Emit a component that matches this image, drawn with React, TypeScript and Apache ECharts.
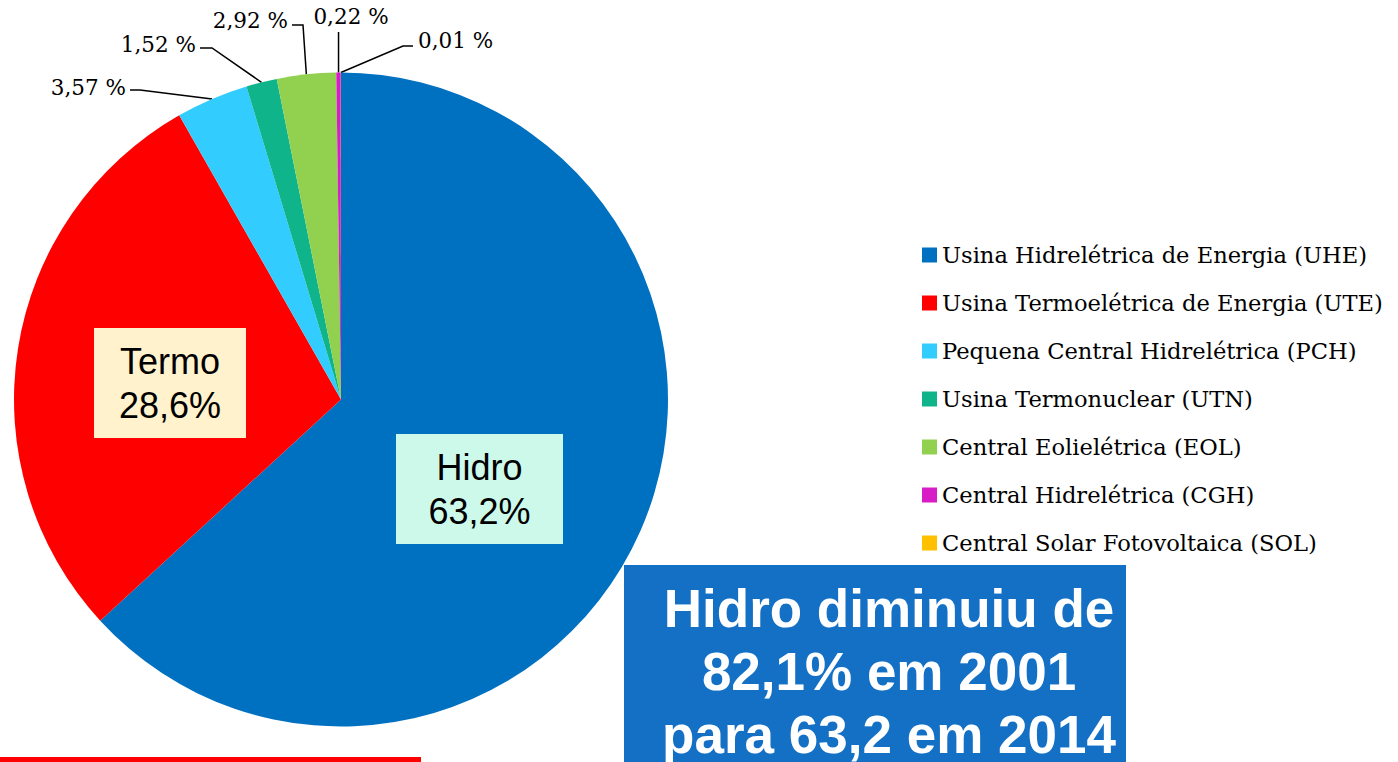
import React, { useEffect, useRef } from "react";
import * as echarts from "echarts";

// ---- data ----
const categories = [
  "Usina Hidrelétrica de Energia (UHE)",
  "Usina Termoelétrica de Energia (UTE)",
  "Pequena Central Hidrelétrica (PCH)",
  "Usina Termonuclear (UTN)",
  "Central Eolielétrica (EOL)",
  "Central Hidrelétrica (CGH)",
  "Central Solar Fotovoltaica (SOL)",
];
const shares = [63.2, 28.6, 3.57, 1.52, 2.92, 0.22, 0.01];
const shortNames = ["Hidro", "Termo", "", "", "", "", ""];
const annotationLines = ["Hidro diminuiu de", "82,1% em 2001", "para 63,2 em 2014"];

// ---- styles ----
const colors = ["#0070C0", "#FF0000", "#33CCFF", "#10B48A", "#92D050", "#D81CC6", "#FFC000"];
const bigBoxBg = ["#CCF9EA", "#FFF2CC"];
const SERIF = '"DejaVu Serif", serif';
const SANS = '"Liberation Sans", Arial, sans-serif';

// label anchor layout per slice index
const layouts: Record<number, any> = {
  0: { x: 479.5, y: 489, align: "center", verticalAlign: "middle" },
  1: { x: 170, y: 383, align: "center", verticalAlign: "middle" },
  2: { x: 126, y: 87, align: "right", elbow: [140, 90], end: [130, 90] },
  3: { x: 196, y: 44, align: "right", elbow: [212, 48], end: [200, 48] },
  4: { x: 288, y: 20, align: "right", elbow: [303, 25], end: [292, 25] },
  5: { x: 351, y: 16, align: "center", vertical: 32 },
  6: { x: 418, y: 40, align: "left", elbow: [403, 46], end: [413, 46] },
};

const fmtPct = (v: number, big: boolean) =>
  big ? v.toFixed(1).replace(".", ",") + "%" : v.toFixed(2).replace(".", ",") + " %";

export default function App() {
  const ref = useRef<HTMLDivElement>(null);
  useEffect(() => {
    if (!ref.current) return;
    const chart = echarts.init(ref.current, undefined, { renderer: "svg" });
    const data = categories.map((name, i) => {
      const big = i < 2;
      return {
        name,
        value: shares[i],
        itemStyle: { color: colors[i] },
        label: big
          ? {
              show: true,
              position: "inside",
              formatter: () => `${shortNames[i]}\n${fmtPct(shares[i], true)}`,
              fontFamily: SANS,
              fontSize: 36,
              lineHeight: 44,
              color: "#000",
              backgroundColor: bigBoxBg[i],
              width: i === 0 ? 167 : 152,
              align: "center",
              padding: [11, 0, 11, 0],
            }
          : {
              show: true,
              position: "outside",
              formatter: () => fmtPct(shares[i], false),
              fontFamily: SERIF,
              fontSize: 21.5,
              color: "#000",
            },
        labelLine: { show: !big },
      };
    });

    chart.setOption({
      animation: false,
      backgroundColor: "#fff",
      legend: {
        orient: "vertical",
        left: 922,
        top: 243,
        padding: 0,
        itemWidth: 15,
        itemHeight: 15,
        itemGap: 24,
        icon: "rect",
        textStyle: { fontFamily: SERIF, fontSize: 22.6, lineHeight: 24, color: "#000" },
        data: categories,
      },
      series: [
        {
          type: "pie",
          center: [341, 399.5],
          radius: 327,
          startAngle: 90,
          clockwise: true,
          avoidLabelOverlap: false,
          itemStyle: { borderWidth: 0 },
          labelLine: { lineStyle: { color: "#000", width: 1.5 }, length: 10, length2: 10 },
          labelLayout: (params: any) => {
            const L = layouts[params.dataIndex];
            if (!L) return {};
            if (params.dataIndex < 2) {
              return { x: L.x, y: L.y, align: L.align, verticalAlign: "middle" };
            }
            const p0 = params.labelLinePoints && params.labelLinePoints[0];
            const out: any = { x: L.x, y: L.y, align: L.align, verticalAlign: "middle" };
            if (p0) {
              if (L.vertical !== undefined) {
                out.labelLinePoints = [
                  [p0[0], p0[1]],
                  [p0[0], (p0[1] + L.vertical) / 2],
                  [p0[0], L.vertical],
                ];
              } else {
                out.labelLinePoints = [[p0[0], p0[1]], L.elbow, L.end];
              }
            }
            return out;
          },
          data,
        },
      ],
      graphic: [
        {
          type: "rect",
          z: 100,
          shape: { x: 624, y: 565, width: 502, height: 200 },
          style: { fill: "#1470C5" },
        },
        {
          type: "text",
          z: 101,
          x: 889,
          y: 577,
          style: {
            text: annotationLines.join("\n"),
            fill: "#fff",
            font: `bold 53px ${SANS}`,
            lineHeight: 63,
            textAlign: "center",
            textVerticalAlign: "top",
          },
        },
        {
          type: "rect",
          z: 100,
          shape: { x: 0, y: 757, width: 421, height: 5 },
          style: { fill: "#FF0000" },
        },
      ],
    });
    return () => chart.dispose();
  }, []);
  return (
    <div
      ref={ref}
      style={{ position: "absolute", left: 0, top: 0, width: 1398, height: 762 }}
    />
  );
}
